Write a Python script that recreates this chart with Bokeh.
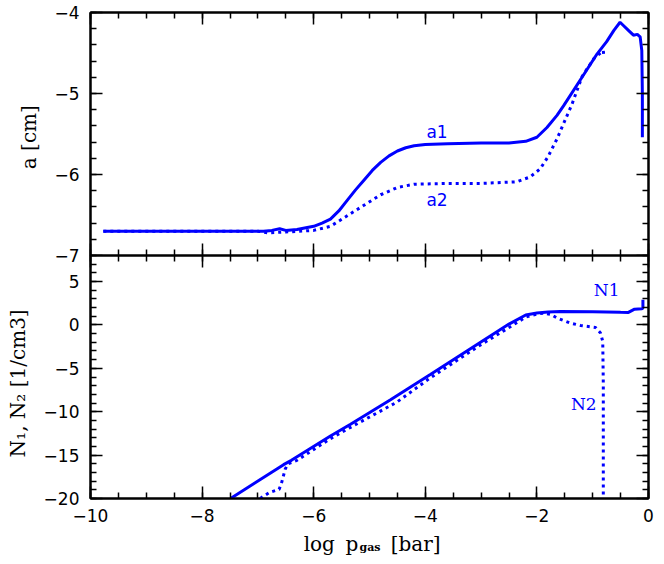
from bokeh.plotting import figure
from bokeh.models import (Range1d, LinearAxis, SingleIntervalTicker,
                          CustomJSTickFormatter, Label)
from bokeh.core.properties import value
from bokeh.layouts import column
from bokeh.embed import file_html
from bokeh.resources import INLINE

# ---------------- data ----------------
# top panel: log grain size a [cm] vs log p_gas [bar]
a1_x = [-9.77, -7.5, -6.9, -6.75, -6.61, -6.5, -6.3, -6.0, -5.85, -5.7, -5.55,
        -5.4, -5.25, -5.1, -4.95, -4.8, -4.65, -4.5, -4.35, -4.2, -4.0, -3.6,
        -3.0, -2.5, -2.2, -2.0, -1.82, -1.64, -1.52, -1.22, -0.92, -0.75,
        -0.62, -0.51, -0.45, -0.36, -0.27, -0.20, -0.15, -0.12, -0.11, -0.11]
a1_y = [-6.70, -6.70, -6.70, -6.69, -6.67, -6.69, -6.68, -6.64, -6.60, -6.55,
        -6.45, -6.32, -6.19, -6.07, -5.95, -5.85, -5.77, -5.71, -5.67, -5.645,
        -5.63, -5.62, -5.61, -5.61, -5.59, -5.54, -5.42, -5.27, -5.15, -4.83,
        -4.51, -4.36, -4.22, -4.12, -4.16, -4.22, -4.28, -4.27, -4.30, -4.47,
        -5.00, -5.54]

a2_x = [-9.77, -7.0, -6.83, -6.5, -6.0, -5.7, -5.4, -5.1, -4.8, -4.5, -4.2,
        -3.6, -3.0, -2.36, -2.12, -1.94, -1.80, -1.64, -1.37, -1.19, -0.98,
        -0.81, -0.80]
a2_y = [-6.70, -6.70, -6.72, -6.71, -6.69, -6.64, -6.51, -6.38, -6.25, -6.16,
        -6.12, -6.11, -6.11, -6.09, -6.03, -5.93, -5.78, -5.56, -5.13, -4.79,
        -4.57, -4.47, -4.55]

# bottom panel: number densities N1, N2 [1/cm3]
n1_x = [-7.49, -6.54, -6.40, -5.70, -5.34, -4.63, -3.91, -3.01, -2.5, -2.2,
        -2.0, -1.8, -1.58, -1.0, -0.5, -0.36, -0.30, -0.25, -0.12, -0.10, -0.10]
n1_y = [-20.0, -16.1, -15.6, -12.8, -11.45, -8.65, -5.7, -2.0, 0.1, 1.15,
        1.38, 1.5, 1.55, 1.52, 1.45, 1.44, 1.65, 1.82, 1.85, 1.95, 2.9]

n2_x = [-6.96, -6.79, -6.62, -6.58, -6.51, -6.46, -6.30, -5.70, -5.34, -4.51,
        -3.91, -3.01, -2.5, -2.2, -2.0, -1.88, -1.75, -1.64, -1.40, -1.22,
        -0.95, -0.86, -0.82, -0.81, -0.81]
n2_y = [-20.0, -19.3, -18.95, -18.3, -16.6, -16.0, -15.6, -13.1, -11.8, -8.9,
        -6.1, -2.3, -0.3, 0.9, 1.25, 1.36, 1.2, 0.8, 0.21, -0.06, -0.29, -0.94,
        -1.9, -6.8, -20.0]

x_limits = (-10, 0)
top_limits = (-7, -4)
bot_limits = (-20, 8)

curve_labels_top = ["a1", "a2"]
curve_labels_top_x = [-3.79, -3.79]
curve_labels_top_y = [-5.47, -6.31]
curve_labels_bot = ["N1", "N2"]
curve_labels_bot_x = [-0.75, -1.16]
curve_labels_bot_y = [3.97, -9.09]

ylabel_top = "a  [cm]"
ylabel_bot = "N\u2081,  N\u2082  [1/cm3]"
xlabel_parts = ["log", "p", "gas", "[bar]"]
xlabel_x = [-6.18, -5.43, -5.18, -4.62]
xlabel_y = [0.467, 0.467, 0.367, 0.467]
xlabel_size = ["20px", "20px", "11px", "20px"]
xlabel_style = ["normal", "normal", "bold", "normal"]

BLUE = "#0000ff"
SANS = "DejaVu Sans"
SERIF = "DejaVu Serif"

fmt_code = "return tick < 0 ? '\\u2212' + Math.abs(tick) : String(tick);"


def add_axis(p, side, interval, nminor, show_labels):
    ax = LinearAxis(ticker=SingleIntervalTicker(interval=interval,
                                                num_minor_ticks=nminor))
    ax.formatter = CustomJSTickFormatter(code=fmt_code)
    ax.axis_line_color = "black"
    ax.axis_line_width = 2
    ax.major_tick_in = 12
    ax.major_tick_out = 0
    ax.minor_tick_in = 6
    ax.minor_tick_out = 0
    ax.major_tick_line_width = 1.5
    ax.minor_tick_line_width = 1.5
    ax.major_tick_line_color = "black"
    ax.minor_tick_line_color = "black"
    if show_labels:
        ax.major_label_text_font = SANS
        ax.major_label_text_font_size = "17px"
        ax.major_label_text_color = "black"
        ax.major_label_standoff = 10 if side == "below" else 11
        ax.axis_label_text_color = "black"
    else:
        # ticks only: labels are not painted at all
        ax.major_label_text_color = None
        ax.major_label_text_font_size = "1px"
        ax.major_label_standoff = 0
    p.add_layout(ax, side)
    return ax


xr = Range1d(*x_limits)

# ---------------- top panel ----------------
top = figure(width=656, height=265, x_range=xr, y_range=Range1d(*top_limits),
             output_backend="svg", toolbar_location=None,
             x_axis_location=None, y_axis_location=None,
             min_border_left=90, min_border_right=8,
             min_border_top=12, min_border_bottom=10)
top.grid.visible = False
top.outline_line_color = "black"
top.outline_line_width = 2
top.background_fill_color = "white"
top.border_fill_color = "white"

add_axis(top, "below", 2, 4, False)
add_axis(top, "above", 2, 4, False)
ly = add_axis(top, "left", 1, 5, True)
add_axis(top, "right", 1, 5, False)
ly.axis_label = ylabel_top
ly.axis_label_text_font = SERIF
ly.axis_label_text_font_size = "20px"
ly.axis_label_text_font_style = "normal"
ly.axis_label_standoff = 10

top.line(a1_x, a1_y, line_color=BLUE, line_width=3)
top.line(a2_x, a2_y, line_color=BLUE, line_width=3, line_dash="3 4",
         line_cap="butt")
for t, x, y in zip(curve_labels_top, curve_labels_top_x, curve_labels_top_y):
    top.add_layout(Label(x=x, y=y, text=t, text_color=BLUE, text_font=SANS,
                         text_font_size="17px", text_align="center",
                         text_baseline="middle"))

# ---------------- bottom panel ----------------
bot = figure(width=656, height=273, x_range=xr, y_range=Range1d(*bot_limits),
             output_backend="svg", toolbar_location=None,
             x_axis_location=None, y_axis_location=None,
             min_border_left=90, min_border_right=8,
             min_border_top=0, min_border_bottom=30)
bot.grid.visible = False
bot.outline_line_color = "black"
bot.outline_line_width = 2
bot.background_fill_color = "white"
bot.border_fill_color = None
bot.margin = (-10, 0, 0, 0)

add_axis(bot, "below", 2, 4, True)
add_axis(bot, "above", 2, 4, False)
ly2 = add_axis(bot, "left", 5, 5, True)
add_axis(bot, "right", 5, 5, False)
ly2.axis_label = ylabel_bot
ly2.axis_label_text_font = SERIF
ly2.axis_label_text_font_size = "20px"
ly2.axis_label_text_font_style = "normal"
ly2.axis_label_standoff = 11

bot.line(n1_x, n1_y, line_color=BLUE, line_width=3)
bot.line(n2_x, n2_y, line_color=BLUE, line_width=3, line_dash="3 4",
         line_cap="butt")
for t, x, y in zip(curve_labels_bot, curve_labels_bot_x, curve_labels_bot_y):
    bot.add_layout(Label(x=x, y=y, text=t, text_color=BLUE, text_font=SERIF,
                         text_font_size="17px", text_align="center",
                         text_baseline="middle"))

# ---------------- x axis title strip (with the "gas" subscript) ----------------
xlab = figure(width=656, height=30, x_range=xr, y_range=Range1d(0, 1),
              output_backend="svg", toolbar_location=None,
              x_axis_location=None, y_axis_location=None,
              min_border_left=90, min_border_right=8,
              min_border_top=0, min_border_bottom=0)
xlab.grid.visible = False
xlab.outline_line_color = None
xlab.background_fill_color = None
xlab.border_fill_color = None
for t, x, y, fs, st in zip(xlabel_parts, xlabel_x, xlabel_y, xlabel_size,
                           xlabel_style):
    xlab.text(x=[x], y=[y], text=[t], text_color="black",
              text_font=value(SERIF), text_font_size=fs,
              text_font_style=st, text_align="left",
              text_baseline="alphabetic")

layout = column(top, bot, xlab, spacing=0)
open("out.html", "w").write(file_html(layout, INLINE))
